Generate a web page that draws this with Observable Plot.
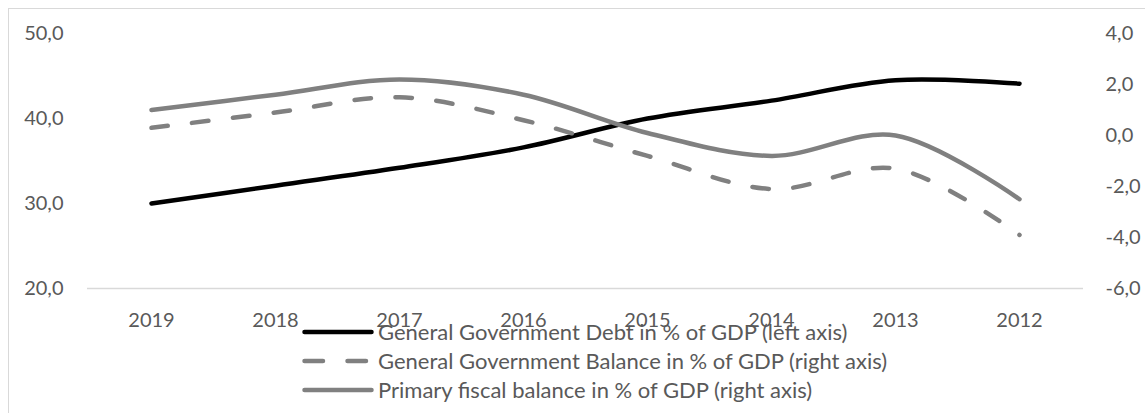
<!DOCTYPE html>
<html>
<head>
<meta charset="utf-8">
<script src="https://cdn.jsdelivr.net/npm/d3@7"></script>
<script src="https://cdn.jsdelivr.net/npm/@observablehq/plot@0.6"></script>
<style>
  html, body { margin: 0; padding: 0; background: #fff; overflow: hidden; }
  #wrap { position: relative; width: 1145px; height: 413px; overflow: hidden; font-family: Lato, "Open Sans", sans-serif; }
  #frame { position: absolute; left: 8px; top: 8px; width: 1300px; height: 600px; border: 1.5px solid #d9d9d9; box-sizing: border-box; }
  #chart { position: absolute; left: 0; top: 0; }
  #legend { position: absolute; left: 300px; top: 317px; color: #595959; font-size: 22px; }
  .row { display: flex; align-items: center; height: 29px; white-space: nowrap; }
  .row svg { margin-right: 2px; display: block; }
</style>
</head>
<body>
<div id="wrap">
  <div id="frame"></div>
  <div id="chart"></div>
  <div id="legend"></div>
</div>
<script>
// ---- data ----
const years = ["2019", "2018", "2017", "2016", "2015", "2014", "2013", "2012"];
const debt = [30.0, 32.1, 34.2, 36.6, 40.0, 42.1, 44.5, 44.1];          // left axis
const balance = [0.3, 0.9, 1.5, 0.6, -0.8, -2.1, -1.3, -3.9];           // right axis
const primary = [1.0, 1.6, 2.2, 1.6, 0.1, -0.8, 0.0, -2.5];             // right axis
const leftTicks = [20, 30, 40, 50];
const rightTicks = [-6, -4, -2, 0, 2, 4];
const seriesNames = [
  "General Government Debt in % of GDP (left axis)",
  "General Government Balance in % of GDP (right axis)",
  "Primary fiscal balance in % of GDP (right axis)"
];

// right axis [-6,4] mapped onto left axis [20,50]
const toLeft = r => 20 + (r + 6) * 3;
const toRight = l => (l - 20) / 3 - 6;
const fmt = v => (Math.round(v * 10) / 10).toFixed(1).replace(".", ",");

const debtData = years.map((y, i) => ({ year: y, v: debt[i] }));
const balData = years.map((y, i) => ({ year: y, v: toLeft(balance[i]) }));
const primData = years.map((y, i) => ({ year: y, v: toLeft(primary[i]) }));

const GRAY = "#808080";
const TEXT = "#595959";

const chart = Plot.plot({
  width: 1145,
  height: 413,
  marginLeft: 87,
  marginRight: 62,
  marginTop: 33,
  marginBottom: 125,
  style: { fontFamily: "Lato, 'Open Sans', sans-serif", fontSize: "20px", color: TEXT, background: "transparent", overflow: "visible" },
  x: { type: "point", domain: years, padding: 0.5, label: null },
  y: { domain: [20, 50], label: null },
  marks: [
    Plot.ruleY([20], { stroke: "#d9d9d9", strokeWidth: 1.5 }),
    Plot.axisY({ ticks: leftTicks, tickSize: 0, tickPadding: 24, tickFormat: fmt, fill: TEXT, fontSize: 20, label: null }),
    Plot.axisY({ anchor: "right", ticks: rightTicks.map(toLeft), tickSize: 0, tickPadding: 22, tickFormat: d => fmt(toRight(d)), fill: TEXT, fontSize: 20, label: null }),
    Plot.axisX({ tickSize: 0, tickPadding: 24, fill: TEXT, fontSize: 20, label: null }),
    Plot.line(debtData, { x: "year", y: "v", stroke: "#000", strokeWidth: 4.5, curve: "catmull-rom", strokeLinecap: "round" }),
    Plot.line(balData, { x: "year", y: "v", stroke: GRAY, strokeWidth: 4.5, curve: "catmull-rom", strokeLinecap: "round", strokeDasharray: "16.5,24.5" }),
    Plot.line(primData, { x: "year", y: "v", stroke: GRAY, strokeWidth: 4.5, curve: "catmull-rom", strokeLinecap: "round" })
  ]
});
document.getElementById("chart").appendChild(chart);

// legend
const legendStyles = [
  { stroke: "#000", dash: null },
  { stroke: GRAY, dash: "18.5,24.5" },
  { stroke: GRAY, dash: null }
];
const legend = document.getElementById("legend");
seriesNames.forEach((name, i) => {
  const row = document.createElement("div");
  row.className = "row";
  const s = legendStyles[i];
  row.innerHTML = `<svg width="76" height="10"><line x1="4.5" y1="5" x2="71.5" y2="5" stroke="${s.stroke}" stroke-width="4.5" stroke-linecap="round" ${s.dash ? `stroke-dasharray="${s.dash}"` : ""}/></svg><span>${name}</span>`;
  legend.appendChild(row);
});
</script>
</body>
</html>
